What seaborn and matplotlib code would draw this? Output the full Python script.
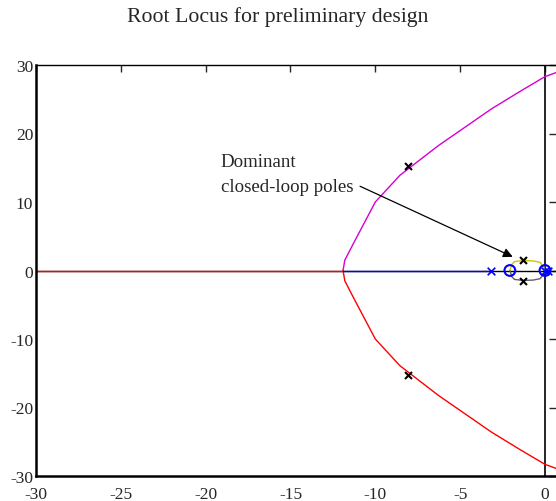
import numpy as np
import pandas as pd
import matplotlib
matplotlib.use('Agg')
import matplotlib.pyplot as plt
import seaborn as sns

# branch going up (magenta) and its mirror (red)
upper_re = [-11.9, -11.8, -11.3, -10.0, -8.55, -6.3, -3.15, -1.5, 0.0, 1.0]
upper_im = [0.0, 1.5, 3.9, 10.0, 13.9, 18.2, 23.6, 26.1, 28.3, 29.2]

# real-axis segments
red_axis_re = [-30.0, -11.9]
blue_axis_re = [-11.9, -3.2]

# small loop near origin (yellow above, grey below)
loop_re = [-2.07, -1.95, -1.8, -1.3, -0.7, -0.3, -0.05, 0.0]
loop_im = [0.0, 0.9, 1.3, 1.45, 1.4, 1.2, 0.5, 0.0]

# open-loop poles / zeros
ol_poles = [-3.2, 0.0, 0.15]
ol_zeros = [-2.07, 0.0]

# closed-loop poles
cl_re = [-8.05, -8.05, -1.3, -1.3]
cl_im = [15.3, -15.3, 1.5, -1.5]

sns.set_style('white')
plt.rcParams['font.family'] = ['Liberation Serif', 'DejaVu Serif']
plt.rcParams['axes.unicode_minus'] = False

fig = plt.figure(figsize=(5.56, 5.02), dpi=100)
ax = fig.add_axes([36 / 556, 25 / 502, 1 - 36 / 556, 411 / 502])

ax.axhline(0, color='black', lw=1, zorder=1)
ax.axvline(0, color='black', lw=1.2, zorder=1)

def branch(xs, ys, color):
    d = pd.DataFrame({'re': xs, 'im': ys})
    sns.lineplot(data=d, x='re', y='im', sort=False, estimator=None,
                 color=color, lw=1, ax=ax, zorder=2)

branch(upper_re, upper_im, '#d400d4')
branch(upper_re, [-v for v in upper_im], '#ff0000')
branch(red_axis_re, [0, 0], '#ff0000')
branch(blue_axis_re, [0, 0], '#0000ff')
branch(loop_re, loop_im, '#c8c800')
branch(loop_re, [-v for v in loop_im], '#606060')

sns.scatterplot(x=ol_poles, y=[0] * len(ol_poles), marker='x', color='#0000ff',
                s=30, linewidth=1.2, ax=ax, zorder=3)
sns.scatterplot(x=ol_zeros, y=[0] * len(ol_zeros), marker='o', facecolor='none',
                edgecolor='#0000ff', s=60, linewidth=1.5, ax=ax, zorder=3)
sns.scatterplot(x=cl_re, y=cl_im, marker='x', color='black',
                s=25, linewidth=1.5, ax=ax, zorder=4)

ax.text(-19.1, 11.0, 'Dominant\nclosed-loop poles', ha='left', va='bottom',
        fontsize=13.6, linespacing=1.6)
ax.annotate('', xy=(-1.9, 2.0), xytext=(-10.9, 12.3),
            arrowprops=dict(arrowstyle='-|>', color='black', lw=0.9,
                            mutation_scale=14, shrinkA=0, shrinkB=0))

ax.set_xlim(-30, 0.65)
ax.set_ylim(-30, 30)
ax.set_xticks(np.arange(-30, 1, 5))
ax.set_yticks(np.arange(-30, 31, 10))
ax.set_xlabel('')
ax.set_ylabel('')
ax.tick_params(direction='in', length=5, width=1, labelsize=12.5,
               top=True, right=True)
ax.tick_params(axis='x', pad=7)
ax.tick_params(axis='y', pad=2)
for side in ['left', 'bottom']:
    ax.spines[side].set_linewidth(1.8)
ax.spines['top'].set_linewidth(1)
ax.spines['right'].set_visible(False)
for s in ax.spines.values():
    s.set_color('black')

fig.suptitle('Root Locus for preliminary design', fontsize=15.7, y=0.985)

fig.savefig('out.png', dpi=100)
